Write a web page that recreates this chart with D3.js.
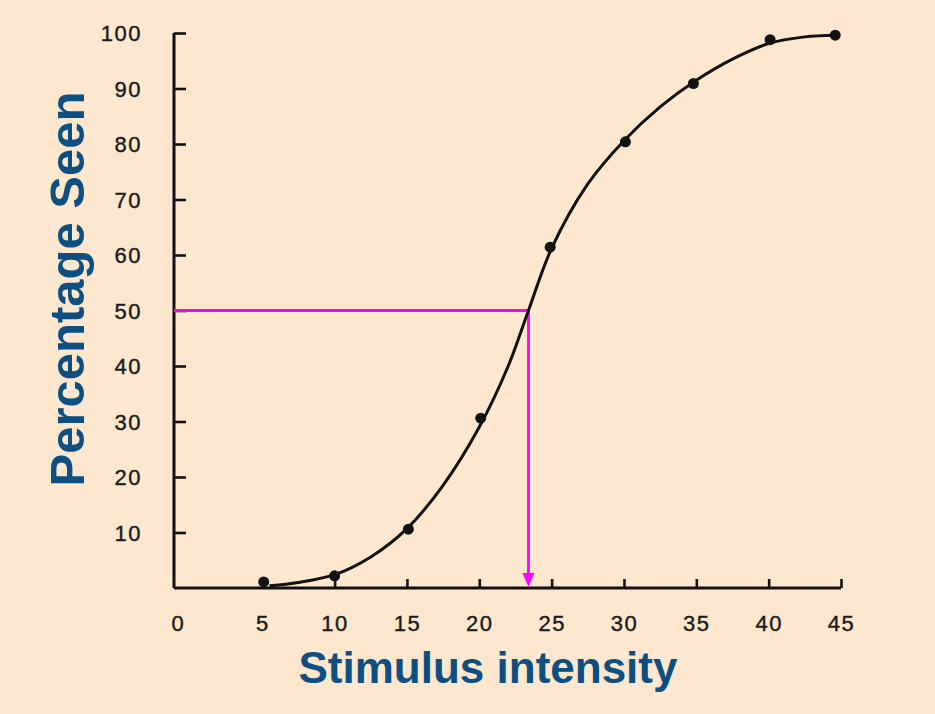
<!DOCTYPE html>
<html><head><meta charset="utf-8">
<script src="https://cdn.jsdelivr.net/npm/d3@7"></script>
<style>
html,body{margin:0;padding:0;background:#fde7cf;}
svg{display:block;}
</style></head>
<body>
<svg id="chart" width="935" height="714"></svg>
<script>
// Data
const intensity = [5.1, 10, 15.1, 20.1, 24.9, 30.1, 34.8, 40.1, 44.6];
const percentSeen = [1.1, 2.2, 10.6, 30.6, 61.4, 80.4, 90.9, 98.8, 99.6];
// Fitted curve
const curveX = [5.5, 7.5, 10, 12.5, 15, 17.5, 20, 22, 23.4, 25, 27.5, 30, 32.5, 35, 37.5, 40, 42.5, 44.6];
const curveY = [0.4, 1.0, 2.4, 5.6, 10.7, 18.5, 29, 40, 50, 61.2, 72.8, 80.6, 86.7, 91.5, 95.3, 98.1, 99.3, 99.6];
const threshold = {x: 23.4, y: 50};
const xTicks = [0, 5, 10, 15, 20, 25, 30, 35, 40, 45];
const yTicks = [10, 20, 30, 40, 50, 60, 70, 80, 90, 100];

const svg = d3.select("#chart");
const x = d3.scaleLinear().domain([-1.1, 45]).range([174, 841]);
const y = d3.scaleLinear().domain([0, 100]).range([588, 33]);

// Axes
const yAxis = d3.axisLeft(y).tickValues(yTicks).tickSizeInner(-12).tickSizeOuter(0).tickPadding(32);
const gy = svg.append("g").attr("transform", `translate(${x(-1.1)},0)`).call(yAxis);
const xAxis = d3.axisBottom(x).tickValues(xTicks).tickSizeInner(-9).tickSizeOuter(0).tickPadding(27);
const gx = svg.append("g").attr("transform", `translate(0,${y(0)})`).call(xAxis);

[gx, gy].forEach(g => {
  g.select(".domain").attr("stroke", "#111").attr("stroke-width", 3);
  g.selectAll(".tick line").attr("stroke", "#111").attr("stroke-width", 2.6);
  g.selectAll(".tick text").attr("fill", "#1a1a1a")
    .attr("stroke", "#1a1a1a").attr("stroke-width", 0.4)
    .style("font-family", "'Liberation Sans', Arial, sans-serif")
    .style("font-size", "22px").style("letter-spacing", "1.5px");
});
gy.select(".domain").attr("d", `M0,${y(0)}V${y(100)}`);
gx.select(".domain").attr("d", `M${x(-1.1)},0H${x(45)}`);
gx.selectAll(".tick").filter(d => d === 0).select("line").remove();
gx.selectAll(".tick").filter(d => d === 0).select("text").attr("dx", -12);
gy.selectAll(".tick text").attr("dy", "0.36em");

// Threshold lines (magenta)
const mag = "#ff00ff";
svg.append("line")
  .attr("x1", x(-1.1)).attr("x2", x(threshold.x))
  .attr("y1", y(threshold.y)).attr("y2", y(threshold.y))
  .attr("stroke", mag).attr("stroke-width", 2.8);
svg.append("line")
  .attr("x1", x(threshold.x)).attr("x2", x(threshold.x))
  .attr("y1", y(threshold.y)).attr("y2", y(0) - 12)
  .attr("stroke", mag).attr("stroke-width", 2.8);
svg.append("path")
  .attr("d", `M${x(threshold.x) - 6},${y(0) - 15}L${x(threshold.x) + 6},${y(0) - 15}L${x(threshold.x)},${y(0) - 1}Z`)
  .attr("fill", mag);

// Curve
const curveData = curveX.map((v, i) => [v, curveY[i]]);
svg.append("path")
  .datum(curveData)
  .attr("d", d3.line().x(d => x(d[0])).y(d => y(d[1])).curve(d3.curveCatmullRom.alpha(0.5)))
  .attr("fill", "none").attr("stroke", "#111").attr("stroke-width", 3);

// Points
svg.selectAll("circle.pt")
  .data(intensity.map((v, i) => [v, percentSeen[i]]))
  .enter().append("circle").attr("class", "pt")
  .attr("cx", d => x(d[0])).attr("cy", d => y(d[1])).attr("r", 5.5)
  .attr("fill", "#111");

// Axis titles
const titleColor = "#0d4f80";
svg.append("text")
  .attr("transform", `translate(84,289) rotate(-90)`)
  .attr("text-anchor", "middle")
  .attr("fill", titleColor)
  .style("font-family", "'Liberation Sans', Arial, sans-serif")
  .style("font-weight", "bold").style("font-size", "49px")
  .text("Percentage Seen");
svg.append("text")
  .attr("x", 488).attr("y", 683)
  .attr("text-anchor", "middle")
  .attr("fill", titleColor)
  .style("font-family", "'Liberation Sans', Arial, sans-serif")
  .style("font-weight", "bold").style("font-size", "44px")
  .text("Stimulus intensity");
</script>
</body></html>
